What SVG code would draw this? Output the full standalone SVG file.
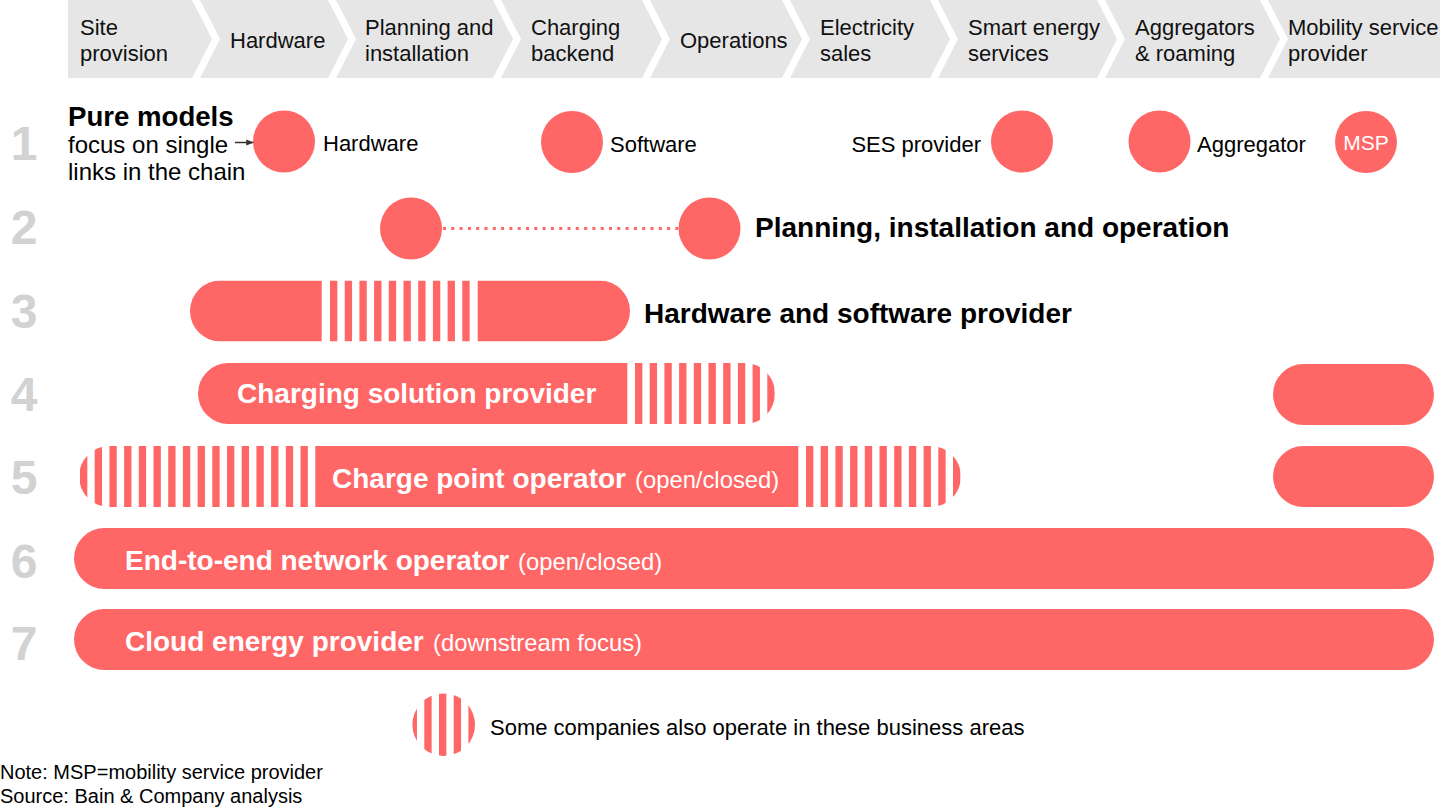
<svg xmlns="http://www.w3.org/2000/svg" width="1440" height="810" viewBox="0 0 1440 810">
<style>
text{font-family:"Liberation Sans",Arial,Helvetica,sans-serif;fill:#000}
.hd{font-size:22px;fill:#111}
.num{font-size:48px;font-weight:bold;fill:#d2d2d2;text-anchor:middle}
.lb{font-size:22px}
.bd{font-size:28px;font-weight:bold}
.wb{font-size:28px;font-weight:bold;fill:#fff}
.wr{font-size:23.8px;fill:#fff}
.sm{font-size:20px}
.chev{fill:#e6e6e6}
.red{fill:#ff6666}
.sep{stroke:url(#sepg);stroke-width:2}
.str{stroke:#ff6666;stroke-dasharray:7.35 7.35}
</style>
<defs>
<linearGradient id="sepg" x1="0" y1="0" x2="1" y2="0">
<stop offset="0" stop-color="#c8c8c8"/>
<stop offset="1" stop-color="#c8c8c8" stop-opacity="0"/>
</linearGradient>
<marker id="arr" viewBox="0 0 10 10" refX="9" refY="5" markerWidth="5" markerHeight="5" orient="auto">
<path d="M0,1 L10,5 L0,9 z" fill="#333"/>
</marker>
<clipPath id="c3"><rect x="190" y="280.5" width="440" height="61" rx="30.5"/></clipPath>
<clipPath id="c4"><rect x="198" y="363" width="577" height="61" rx="30.5"/></clipPath>
<clipPath id="c5"><rect x="79" y="446" width="882" height="61" rx="30.5"/></clipPath>
<clipPath id="cl"><circle cx="443.7" cy="724.7" r="31.3"/></clipPath>
</defs>

<g id="header">
<polygon class="chev" points="68,0 192,0 212,39 192,78 68,78"/>
<polygon class="chev" points="200,0 328,0 348,39 328,78 200,78 220,39"/>
<polygon class="chev" points="336,0 493,0 513,39 493,78 336,78 356,39"/>
<polygon class="chev" points="501,0 642,0 662,39 642,78 501,78 521,39"/>
<polygon class="chev" points="650,0 782,0 802,39 782,78 650,78 670,39"/>
<polygon class="chev" points="790,0 930,0 950,39 930,78 790,78 810,39"/>
<polygon class="chev" points="938,0 1097,0 1117,39 1097,78 938,78 958,39"/>
<polygon class="chev" points="1105,0 1260,0 1280,39 1260,78 1105,78 1125,39"/>
<polygon class="chev" points="1268,0 1440,0 1440,78 1268,78 1288,39"/>
<text class="hd" x="80" y="35">Site</text><text class="hd" x="80" y="61">provision</text>
<text class="hd" x="230" y="48">Hardware</text>
<text class="hd" x="365" y="35">Planning and</text><text class="hd" x="365" y="61">installation</text>
<text class="hd" x="531" y="35">Charging</text><text class="hd" x="531" y="61">backend</text>
<text class="hd" x="680" y="48">Operations</text>
<text class="hd" x="820" y="35">Electricity</text><text class="hd" x="820" y="61">sales</text>
<text class="hd" x="968" y="35">Smart energy</text><text class="hd" x="968" y="61">services</text>
<text class="hd" x="1135" y="35">Aggregators</text><text class="hd" x="1135" y="61">&amp; roaming</text>
<text class="hd" x="1288" y="35">Mobility service</text><text class="hd" x="1288" y="61">provider</text>
</g>

<g id="rows">
<text class="num" x="24" y="160">1</text>
<text class="num" x="24" y="244">2</text>
<text class="num" x="24" y="328">3</text>
<text class="num" x="24" y="411">4</text>
<text class="num" x="24" y="494">5</text>
<text class="num" x="24" y="578">6</text>
<text class="num" x="24" y="660">7</text>
<line class="sep" x1="0" y1="186.5" x2="115" y2="186.5"/>
<line class="sep" x1="0" y1="268.5" x2="115" y2="268.5"/>
<line class="sep" x1="0" y1="351.5" x2="115" y2="351.5"/>
<line class="sep" x1="0" y1="434.5" x2="115" y2="434.5"/>
<line class="sep" x1="0" y1="517" x2="115" y2="517"/>
<line class="sep" x1="0" y1="600" x2="115" y2="600"/>
</g>

<g id="pure-models">
<text class="bd" x="68" y="126" style="font-size:27.6px">Pure models</text>
<text x="68" y="153" style="font-size:24px">focus on single</text>
<text x="68" y="180" style="font-size:24px">links in the chain</text>
</g>

<g id="node-hardware"><circle class="red" cx="284" cy="141.5" r="31"/><text class="lb" x="323" y="151">Hardware</text></g>
<g id="node-software"><circle class="red" cx="572" cy="142" r="31"/><text class="lb" x="610" y="152">Software</text></g>
<g id="node-ses"><circle class="red" cx="1022" cy="141.5" r="31"/><text class="lb" x="981" y="152" text-anchor="end">SES provider</text></g>
<g id="node-aggregator"><circle class="red" cx="1159.5" cy="141.5" r="31"/><text class="lb" x="1197" y="152">Aggregator</text></g>
<g id="node-msp"><circle class="red" cx="1366" cy="142" r="31"/><text x="1366" y="150" text-anchor="middle" style="font-size:21px;fill:#fff">MSP</text></g>

<g id="node-row2">
<circle class="red" cx="411" cy="228.5" r="31"/>
<circle class="red" cx="709.5" cy="228.5" r="31"/>
<text class="bd" x="755" y="237">Planning, installation and operation</text>
</g>

<g id="node-row3">
<g clip-path="url(#c3)">
<rect class="red" x="190" y="280.5" width="131.7" height="61"/>
<line class="str" x1="330" y1="311" x2="470" y2="311" stroke-width="61"/>
<rect class="red" x="477.7" y="280.5" width="152.3" height="61"/>
</g>
<text class="bd" x="644" y="323">Hardware and software provider</text>
</g>

<g id="node-row4">
<g clip-path="url(#c4)">
<rect class="red" x="198" y="363" width="429.3" height="61"/>
<line class="str" x1="635" y1="393.5" x2="776" y2="393.5" stroke-width="61"/>
</g>
<text class="wb" x="237" y="403">Charging solution provider</text>
</g>
<g id="node-row4-msp"><rect class="red" x="1273" y="364" width="161" height="61" rx="30.5"/></g>

<g id="node-row5">
<g clip-path="url(#c5)">
<line class="str" x1="80" y1="476.5" x2="308" y2="476.5" stroke-width="61"/>
<rect class="red" x="315.3" y="446" width="483" height="61"/>
<line class="str" x1="806" y1="476.5" x2="962" y2="476.5" stroke-width="61"/>
</g>
<text class="wb" x="332" y="488">Charge point operator</text>
<text class="wr" x="635" y="488">(open/closed)</text>
</g>
<g id="node-row5-msp"><rect class="red" x="1273" y="446" width="161" height="61" rx="30.5"/></g>

<g id="node-row6">
<rect class="red" x="74" y="528" width="1360" height="61" rx="30.5"/>
<text class="wb" x="125" y="570">End-to-end network operator</text>
<text class="wr" x="518" y="570">(open/closed)</text>
</g>

<g id="node-row7">
<rect class="red" x="74" y="609" width="1360" height="61" rx="30.5"/>
<text class="wb" x="125" y="651">Cloud energy provider</text>
<text class="wr" x="433" y="651">(downstream focus)</text>
</g>

<g id="legend">
<g clip-path="url(#cl)">
<line class="str" x1="409.6" y1="724.7" x2="480" y2="724.7" stroke-width="64"/>
</g>
<text class="lb" x="490" y="735">Some companies also operate in these business areas</text>
</g>

<g id="connectors">
<line x1="235" y1="142.5" x2="253" y2="142.5" stroke="#333" stroke-width="1.5" marker-end="url(#arr)"/>
<line x1="443" y1="228.5" x2="678" y2="228.5" stroke="#ff6666" stroke-width="3" stroke-dasharray="3 5.3"/>
</g>

<g id="notes">
<text class="sm" x="0" y="779">Note: MSP=mobility service provider</text>
<text class="sm" x="0" y="803">Source: Bain &amp; Company analysis</text>
</g>
</svg>
